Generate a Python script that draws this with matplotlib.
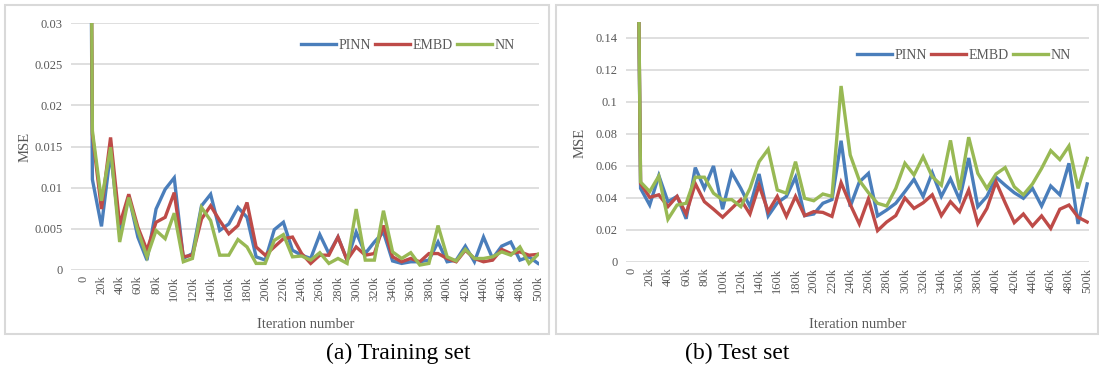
import matplotlib
matplotlib.use('Agg')
import matplotlib.pyplot as plt
from matplotlib.patches import Rectangle

plt.rcParams['font.family'] = ['Liberation Serif', 'DejaVu Serif']

# iterations 0, 10k, ..., 500k
iters = [f"{k}k" if k else "0" for k in range(0, 510, 10)]

# training set MSE (first value is off the chart, clipped)
train_pinn = [0.2, 0.011, 0.0053, 0.0143, 0.0045, 0.009, 0.004, 0.0012, 0.0074, 0.0098,
              0.0112, 0.0014, 0.002, 0.0078, 0.0092, 0.0048, 0.0056, 0.0076, 0.0064, 0.0016,
              0.0012, 0.0049, 0.0058, 0.0024, 0.0018, 0.0014, 0.0043, 0.002, 0.004, 0.0012,
              0.0046, 0.002, 0.0034, 0.0046, 0.0011, 0.0008, 0.001, 0.001, 0.0012, 0.0034,
              0.001, 0.0012, 0.0029, 0.001, 0.004, 0.0014, 0.0029, 0.0034, 0.0012, 0.0016,
              0.0008]
train_embd = [0.2, 0.0165, 0.0074, 0.0161, 0.0055, 0.0092, 0.0052, 0.0024, 0.0058, 0.0064,
              0.0094, 0.0016, 0.0018, 0.0062, 0.0078, 0.006, 0.0044, 0.0054, 0.0082, 0.0028,
              0.0018, 0.0028, 0.0038, 0.004, 0.002, 0.0008, 0.0018, 0.0018, 0.004, 0.0012,
              0.0028, 0.0018, 0.002, 0.0054, 0.0016, 0.001, 0.0014, 0.001, 0.002, 0.002,
              0.0014, 0.001, 0.0024, 0.0014, 0.001, 0.0012, 0.0025, 0.002, 0.0022, 0.0018,
              0.0019]
train_nn = [0.2, 0.0169, 0.0084, 0.0149, 0.0034, 0.0088, 0.0048, 0.0016, 0.0048, 0.0038,
            0.0069, 0.001, 0.0014, 0.0076, 0.006, 0.0018, 0.0018, 0.0037, 0.0028, 0.0008,
            0.0008, 0.0036, 0.0043, 0.0016, 0.0017, 0.0012, 0.0021, 0.0008, 0.0014, 0.0008,
            0.0074, 0.0012, 0.0012, 0.0072, 0.0022, 0.0014, 0.0021, 0.0006, 0.0008, 0.0054,
            0.0016, 0.0011, 0.0025, 0.0014, 0.0014, 0.0016, 0.0022, 0.0018, 0.0028, 0.0008,
            0.0019]

# test set MSE
test_pinn = [0.6, 0.046, 0.0356, 0.054, 0.0377, 0.041, 0.027, 0.059, 0.046, 0.06,
             0.033, 0.056, 0.046, 0.0346, 0.055, 0.0288, 0.037, 0.041, 0.053, 0.029,
             0.03, 0.0367, 0.039, 0.0758, 0.0346, 0.05, 0.0554, 0.0288, 0.0325, 0.0367,
             0.044, 0.0517, 0.041, 0.0558, 0.041, 0.052, 0.039, 0.065, 0.0346, 0.041,
             0.053, 0.048, 0.0433, 0.0398, 0.046, 0.035, 0.0475, 0.042, 0.0617, 0.0238,
             0.0488]
test_embd = [0.6, 0.049, 0.0404, 0.042, 0.0346, 0.041, 0.03, 0.049, 0.0377, 0.033,
             0.028, 0.0335, 0.039, 0.03, 0.048, 0.0315, 0.041, 0.0285, 0.041, 0.029,
             0.0315, 0.031, 0.0285, 0.0496, 0.036, 0.0238, 0.0395, 0.0196, 0.025, 0.029,
             0.04, 0.0335, 0.037, 0.042, 0.029, 0.0377, 0.0315, 0.045, 0.024, 0.0335,
             0.05, 0.037, 0.0246, 0.03, 0.0225, 0.0288, 0.021, 0.033, 0.0356, 0.028,
             0.025]
test_nn = [0.6, 0.05, 0.044, 0.0537, 0.0267, 0.0356, 0.0367, 0.053, 0.053, 0.043,
           0.0388, 0.039, 0.0346, 0.046, 0.0627, 0.0704, 0.045, 0.043, 0.0627, 0.0398,
           0.0383, 0.0425, 0.041, 0.11, 0.0669, 0.051, 0.0433, 0.0367, 0.035, 0.046,
           0.0617, 0.0544, 0.0658, 0.0533, 0.048, 0.076, 0.045, 0.078, 0.0554, 0.046,
           0.055, 0.059, 0.047, 0.042, 0.0488, 0.0585, 0.0696, 0.064, 0.0725, 0.046,
           0.0648]

series_names = ['PINN', 'EMBD', 'NN']
colors = ['#4a7ebb', '#be4b48', '#98b954']
text_col = '#595959'
grid_col = '#d9d9d9'

W, H = 1099, 371
fig = plt.figure(figsize=(W / 100, H / 100), dpi=100)


def px(x0, y0, x1, y1):
    return [x0 / W, 1 - y1 / H, (x1 - x0) / W, (y1 - y0) / H]


# panel frames
for x0, x1 in [(5, 549), (556, 1098)]:
    fig.patches.append(Rectangle((x0 / W, 1 - 334 / H), (x1 - x0) / W, 329 / H,
                                 transform=fig.transFigure, fill=False,
                                 edgecolor=grid_col, linewidth=1.5))

panels = [
    dict(rect=px(71, 23, 539, 270), data=[train_pinn, train_embd, train_nn],
         ymax=0.03, yticks=[0, 0.005, 0.01, 0.015, 0.02, 0.025, 0.03], xlim=(-1.35, 50.1),
         leg=(0.72, 0.91), mse=(25, 147), xl=(306, 324), cap=(398, 353, '(a) Training set')),
    dict(rect=px(626, 22, 1089, 262), data=[test_pinn, test_embd, test_nn],
         ymax=0.15, yticks=[0, 0.02, 0.04, 0.06, 0.08, 0.1, 0.12, 0.14], xlim=(-0.6, 50.2),
         leg=(0.73, 0.86), mse=(580, 143), xl=(858, 324), cap=(737, 353, '(b) Test set')),
]

x = list(range(len(iters)))
for p in panels:
    ax = fig.add_axes(p['rect'])
    for vals, name, c in zip(p['data'], series_names, colors):
        ax.plot(x, vals, color=c, lw=2.4, label=name, solid_joinstyle='miter')
    ax.set_ylim(0, p['ymax'])
    ax.set_xlim(*p['xlim'])
    ax.set_yticks(p['yticks'])
    ax.set_yticklabels([f"{t:g}" for t in p['yticks']])
    ax.set_xticks(x[::2])
    ax.set_xticklabels(iters[::2], rotation=90)
    ax.tick_params(length=0, labelsize=9, colors=text_col, pad=6)
    ax.tick_params(axis='x', pad=4)
    ax.grid(axis='y', color=grid_col, lw=1.2)
    ax.set_axisbelow(True)
    for s in ax.spines.values():
        s.set_visible(False)
    ax.legend(loc='center', bbox_to_anchor=p['leg'], ncol=3, frameon=False,
              fontsize=10, handlelength=2.5, handletextpad=0.2, columnspacing=0.3,
              labelcolor=text_col)
    fig.text(p['mse'][0] / W, 1 - p['mse'][1] / H, 'MSE', rotation=90,
             ha='center', va='center', fontsize=10.5, color=text_col)
    fig.text(p['xl'][0] / W, 1 - p['xl'][1] / H, 'Iteration number',
             ha='center', va='center', fontsize=10.5, color=text_col)
    cx, cy, ct = p['cap']
    fig.text(cx / W, 1 - cy / H, ct, ha='center', va='center', fontsize=17, color='black')

fig.savefig('out.png', dpi=100)
